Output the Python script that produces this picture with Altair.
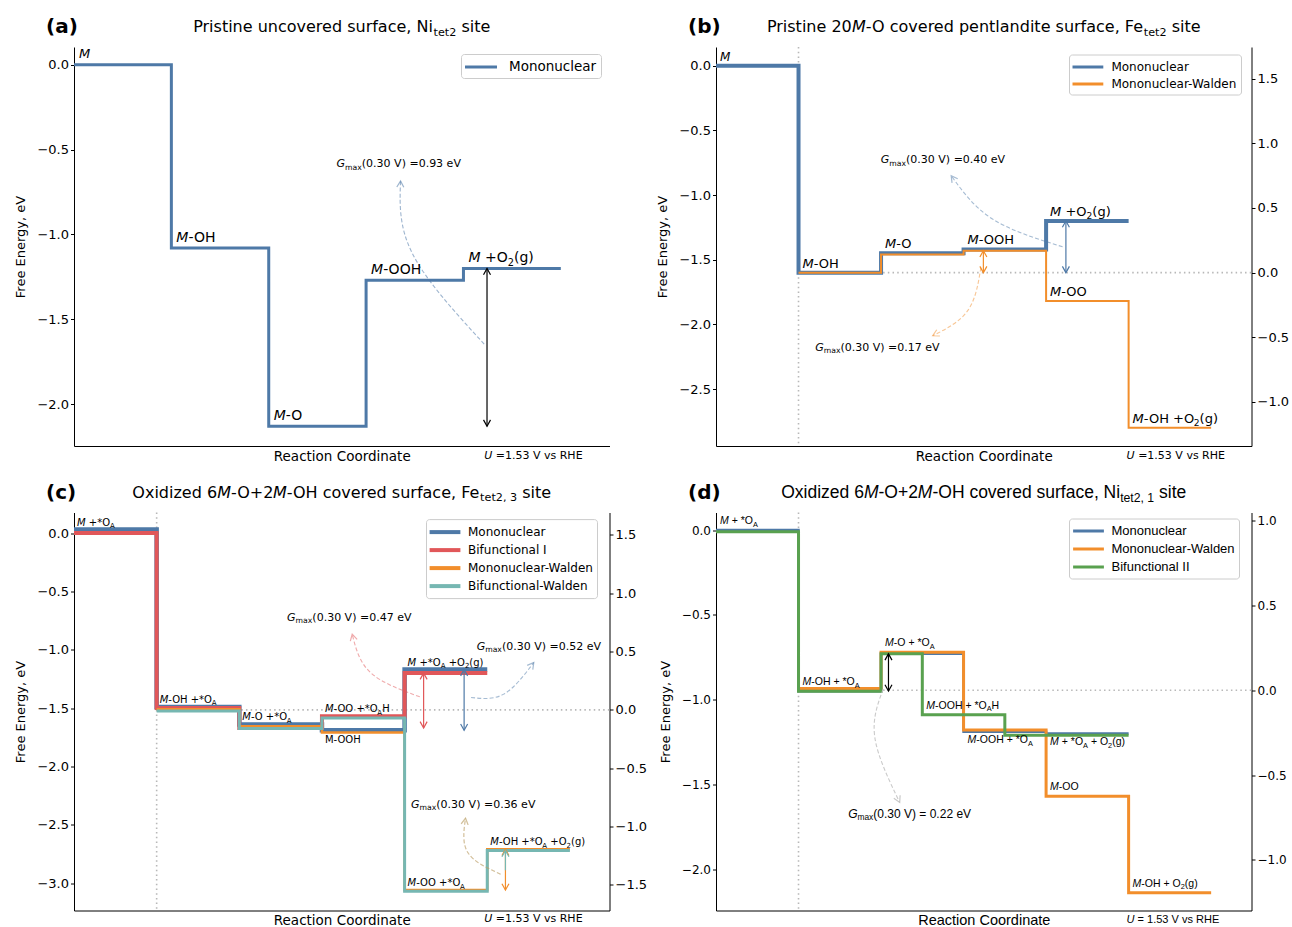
import math
import altair as alt
import pandas as pd

BLUE, ORANGE, RED, TEAL, GREEN = "#4E79A7", "#F28E2B", "#E15759", "#76B7B2", "#59A14F"
DOT = "#b8b8b8"
DV, LS = "DejaVu Sans", "Liberation Sans"

# ------------------------------------------------------------------ data
# (a) Pristine uncovered surface
A_MONO_STEPS = [0, 1, 2, 3, 4, 5]
A_MONO = [0.00, -1.08, -2.13, -1.27, -1.20]
A_STATES = ["$M$", "$M$-OH", "$M$-O", "$M$-OOH", "$M$ +O_2(g)"]
A_GMAX = ["$G$_{max}(0.30 V) =0.93 eV"]

# (b) Pristine 20M-O covered pentlandite surface
B_MONO_STEPS = [0, 1, 2, 3, 4, 5]
B_MONO = [0.00, -1.60, -1.45, -1.42, -1.20]
B_WALD_STEPS = [1, 2, 3, 4, 5, 6]
B_WALD = [-1.60, -1.46, -1.43, -1.82, -2.80]
B_MONO_STATES = ["$M$", "$M$-OH", "$M$-O", "$M$-OOH", "$M$ +O_2(g)"]
B_WALD_STATES = ["$M$-OO", "$M$-OH +O_2(g)"]
B_GMAX = ["$G$_{max}(0.30 V) =0.40 eV", "$G$_{max}(0.30 V) =0.17 eV"]

# (c) Oxidized surface, Fe site
C_MONO_STEPS = [0, 1, 2, 3, 4, 5]
C_MONO = [0.03, -1.49, -1.64, -1.69, -1.17]
C_BIF1_STEPS = [0, 1, 2, 3, 4, 5]
C_BIF1 = [0.00, -1.50, -1.67, -1.57, -1.20]
C_MWALD_STEPS = [1, 2, 3, 4, 5, 6]
C_MWALD = [-1.51, -1.655, -1.71, -3.06, -2.71]
C_BWALD_STEPS = [1, 2, 3, 4, 5, 6]
C_BWALD = [-1.525, -1.675, -1.585, -3.07, -2.72]
C_STATES = ["$M$ +*O_A", "$M$-OH +*O_A", "$M$-O +*O_A", "$M$-OO +*O_AH", "M-OOH",
            "$M$ +*O_A +O_2(g)", "$M$-OO +*O_A", "$M$-OH +*O_A +O_2(g)"]
C_GMAX = ["$G$_{max}(0.30 V) =0.47 eV", "$G$_{max}(0.30 V) =0.52 eV", "$G$_{max}(0.30 V) =0.36 eV"]

# (d) Oxidized surface, Ni site
D_MONO_STEPS = [0, 1, 2, 3, 4, 5]
D_MONO = [0.00, -0.95, -0.73, -1.19, -1.20]
D_MWALD_STEPS = [1, 2, 3, 4, 5, 6]
D_MWALD = [-0.935, -0.72, -1.18, -1.57, -2.14]
D_BIF2_STEPS = [0, 1, 2, 2.5, 3.5, 5]
D_BIF2 = [-0.01, -0.95, -0.73, -1.09, -1.21]
D_STATES = ["$M$ + *O_A", "$M$-OH + *O_A", "$M$-O + *O_A", "$M$-OOH + *O_AH", "$M$-OOH + *O_A",
            "$M$ + *O_A + O_2(g)", "$M$-OO", "$M$-OH + O_2(g)"]
D_GMAX = ["$G$_{max}(0.30 V) = 0.22 eV"]

# ------------------------------------------------------------------ text helpers
_DV = {" ": .318, "(": .390, ")": .390, "*": .500, "+": .838, ",": .318, "-": .361, ".": .318, "=": .838,
       "A": .684, "E": .632, "F": .575, "G": .775, "H": .752, "M": .863, "N": .748, "O": .787, "P": .603,
       "R": .695, "U": .732, "V": .684, "W": .989,
       "a": .613, "b": .635, "c": .550, "d": .635, "e": .615, "f": .352, "g": .635, "h": .634, "i": .278,
       "k": .579, "l": .278, "m": .974, "n": .634, "o": .612, "p": .635, "r": .411, "s": .521, "t": .392,
       "u": .634, "v": .592, "x": .592, "y": .592, "z": .525}
_DVB = {"(": .457, ")": .457, "a": .675, "b": .716, "c": .593, "d": .716}
_LS = {" ": .278, "(": .333, ")": .333, "*": .389, "+": .584, ",": .278, "-": .333, ".": .278, "=": .584,
       "A": .667, "E": .667, "F": .611, "G": .778, "H": .722, "M": .833, "N": .722, "O": .778, "P": .667,
       "R": .722, "U": .722, "V": .667, "W": .944,
       "a": .556, "b": .556, "c": .5, "d": .556, "e": .556, "f": .278, "g": .556, "h": .556, "i": .222,
       "k": .5, "l": .222, "m": .833, "n": .556, "o": .556, "p": .556, "r": .333, "s": .5, "t": .278,
       "u": .556, "v": .5, "x": .5, "y": .5, "z": .5}
_LSB = {"(": .333, ")": .333, "d": .611}
for _d in "0123456789":
    _DV[_d] = .636
    _LS[_d] = .556
TABLES = {DV: (_DV, _DVB), LS: (_LS, _LSB)}


def text_width(s, font, size, bold=False):
    reg, bld = TABLES[font]
    return sum((bld.get(c, reg.get(c, .6) * 1.08) if bold else reg.get(c, .6)) for c in s) * size


def parse(markup):
    segs, cur, italic, i = [], "", False, 0
    while i < len(markup):
        ch = markup[i]
        if ch == "$":
            if cur:
                segs.append((cur, "i" if italic else "n"))
                cur = ""
            italic = not italic
            i += 1
        elif ch == "_":
            if cur:
                segs.append((cur, "i" if italic else "n"))
                cur = ""
            if markup[i + 1] == "{":
                j = markup.index("}", i)
                segs.append((markup[i + 2:j], "s"))
                i = j + 1
            else:
                segs.append((markup[i + 1], "s"))
                i += 2
        else:
            cur += ch
            i += 1
    if cur:
        segs.append((cur, "i" if italic else "n"))
    return segs


def emit(rows, markup, x, y, size, font, kx, ky, align="left", bold=False):
    pieces = []
    for t, st in parse(markup):
        s = size * 0.7 if st == "s" else size
        pieces.append((t, st, s, text_width(t, font, s, bold)))
    total = sum(p[3] for p in pieces)
    cur = x - (total / 2.0) / kx if align == "center" else x
    for t, st, s, w in pieces:
        body = t.lstrip(" ")
        lead = text_width(t[: len(t) - len(body)], font, s, bold)
        body = body.rstrip(" ")
        if body:
            yy = y - (0.24 * size) / ky if st == "s" else y
            style = "b" if bold else ("i" if st == "i" else "n")
            rows.append({"x": cur + lead / kx, "y": yy, "t": body, "s": s, "st": style, "f": font})
        cur += w / kx


def step_rows(name, xs, levels):
    rows, o = [], 0
    for i, lev in enumerate(levels):
        rows.append({"x": xs[i], "y": lev, "series": name, "o": o})
        rows.append({"x": xs[i + 1], "y": lev, "series": name, "o": o + 1})
        o += 2
    return rows


CHEV = "M-1,1.8L0,0L1,1.8"
VIEW = alt.ViewBackground(stroke="transparent", strokeWidth=0, strokeOpacity=0)


def build(cfg):
    W, H = cfg["W"], cfg["H"]
    (x0, x1), (y0, y1) = cfg["xdom"], cfg["ydom"]
    kx, ky = W / (x1 - x0), H / (y1 - y0)
    font = cfg["font"]

    xsc = alt.Scale(domain=[x0, x1], nice=False, zero=False)
    ysc = alt.Scale(domain=[y0, y1], nice=False, zero=False)
    xaxis = alt.Axis(title="Reaction Coordinate", labels=False, ticks=False, grid=False,
                     domainColor="black", domainWidth=1, titleFont=cfg["xt_font"],
                     titleFontSize=cfg["xt_fs"], titleFontWeight="normal", titleColor="black",
                     titlePadding=3)
    yaxis = alt.Axis(title="Free Energy, eV", values=cfg["yticks"], format=".1f", grid=False,
                     domainColor="black", domainWidth=1, tickColor="black", tickWidth=1, tickSize=3.5,
                     labelColor="black", labelFont=DV, labelFontSize=cfg["tick_fs"], labelPadding=2,
                     titleFont=DV, titleFontSize=13, titleFontWeight="normal", titleColor="black",
                     titlePadding=9)

    def X():
        return alt.X("x:Q", scale=xsc, axis=xaxis)

    def Y():
        return alt.Y("y:Q", scale=ysc, axis=yaxis)

    names = [s[0] for s in cfg["series"]]
    lg = cfg["legend"]
    leg = alt.Legend(title=None, orient="none", legendX=lg["x"], legendY=lg["y"],
                     symbolType="M-2.2,0H2.2", symbolSize=lg["symsize"], symbolOffset=lg["symoff"],
                     symbolStrokeWidth=lg["sw"],
                     labelOffset=lg["laboff"], labelFont=lg["font"], labelFontSize=lg["fs"],
                     labelColor="black", fillColor="white", strokeColor="#cccccc", padding=lg["pad"],
                     cornerRadius=3, rowPadding=lg["rowpad"], labelLimit=300)
    color_enc = alt.Color("series:N", scale=alt.Scale(domain=names, range=[s[3] for s in cfg["series"]]),
                          legend=leg)

    layers = []
    vx = cfg["vline"] if cfg["vline"] is not None else x0
    vdf = pd.DataFrame([{"x": vx, "y": y1, "y2": y0}])
    vis = cfg["vline"] is not None
    layers.append(alt.Chart(vdf).mark_rule(color=DOT, strokeDash=[1.5, 3.2], strokeWidth=1.6,
                                           opacity=1 if vis else 0, strokeOpacity=1 if vis else 0)
                  .encode(x=X(), y=Y(), y2="y2:Q"))

    series_map = {}
    for name, xs, lev, col, w in cfg["series"]:
        series_map[name] = (xs, lev)
        df = pd.DataFrame(step_rows(name, xs, lev))
        layers.append(alt.Chart(df).mark_line(strokeJoin="miter", strokeWidth=w)
                      .encode(x=X(), y=Y(), order=alt.Order("o:Q"), color=color_enc))

    # dashed curved arrows + arrowheads
    crow, hrow, arow = [], [], []
    for cid, (pts, col, op) in enumerate(cfg["curves"]):
        for k, (px_, py_) in enumerate(pts):
            crow.append({"x": px_, "y": py_, "o": k, "id": cid, "c": col, "op": op})
        P = [(p[0] * kx, -p[1] * ky) for p in pts]
        tx = (P[2][0] - P[1][0]) + 0.25 * (P[0][0] - 2 * P[1][0] + P[2][0])
        ty = (P[2][1] - P[1][1]) + 0.25 * (P[0][1] - 2 * P[1][1] + P[2][1])
        ang = math.degrees(math.atan2(tx, -ty)) % 360
        hrow.append({"x": pts[2][0], "y": pts[2][1], "a": ang, "c": col, "op": op})
    for ax, yt, yb, col, heads in cfg["arrows"]:
        arow.append({"x": ax, "y": yt, "y2": yb, "c": col})
        if heads in ("both", "top"):
            hrow.append({"x": ax, "y": yt, "a": 0, "c": col, "op": 1.0})
        if heads in ("both", "bottom"):
            hrow.append({"x": ax, "y": yb, "a": 180, "c": col, "op": 1.0})
    if crow:
        layers.append(alt.Chart(pd.DataFrame(crow)).mark_line(interpolate="natural", strokeDash=[4, 2.2],
                                                               strokeWidth=1.1)
                      .encode(x=X(), y=Y(), order=alt.Order("o:Q"), detail="id:N",
                              stroke=alt.Stroke("c:N", scale=None), opacity=alt.Opacity("op:Q", scale=None)))
    if arow:
        layers.append(alt.Chart(pd.DataFrame(arow)).mark_rule(strokeWidth=1.2)
                      .encode(x=X(), y=Y(), y2="y2:Q", stroke=alt.Stroke("c:N", scale=None)))
    if hrow:
        layers.append(alt.Chart(pd.DataFrame(hrow)).mark_point(shape=CHEV, filled=False, size=49,
                                                               strokeWidth=1.2)
                      .encode(x=X(), y=Y(), angle=alt.Angle("a:Q", scale=None),
                              stroke=alt.Stroke("c:N", scale=None), opacity=alt.Opacity("op:Q", scale=None)))

    # texts
    rows = []
    for lab in cfg["labels"]:
        markup, sname, idx, pos = lab[:4]
        size = lab[4] if len(lab) > 4 else cfg["lab_fs"]
        xs, lev = series_map[sname]
        lx = xs[idx] + cfg["lab_dx"] / kx
        if pos == "a":
            ly = lev[idx] + (lab[5] if len(lab) > 5 else cfg["lab_above"]) / ky
        else:
            ly = lev[idx] - cfg["lab_below"] / ky
        emit(rows, markup, lx, ly, size, font, kx, ky)
    for g, gx, gy in cfg["gmax"]:
        emit(rows, g, gx, gy, cfg["gmax_fs"], font, kx, ky, align="center")
    emit(rows, cfg["title"], (x0 + x1) / 2, y1 + 15 / ky, cfg["title_fs"], cfg["title_font"], kx, ky,
         align="center")
    emit(rows, cfg["tag"], x0 - 28 / kx, y1 + 14 / ky, 20, DV, kx, ky, bold=True)
    emit(rows, cfg["utext"], x0 + cfg["ux"] / kx, y0 - cfg["u_dy"] / ky, cfg["u_fs"], font, kx, ky)
    tdf = pd.DataFrame(rows)
    for (f, st), sub in tdf.groupby(["f", "st"]):
        layers.append(alt.Chart(sub).mark_text(align="left", baseline="alphabetic", font=f,
                                               fontStyle="italic" if st == "i" else "normal",
                                               fontWeight="bold" if st == "b" else "normal", color="black")
                      .encode(x=X(), y=Y(), text="t:N", size=alt.Size("s:Q", scale=None, legend=None)))

    main = alt.layer(*layers)
    if cfg["right"] is not None:
        off, rticks = cfg["right"]
        raxis = alt.Axis(orient="right", title=None, values=rticks, format=".1f", grid=False,
                         domainColor="black", domainWidth=1, tickColor="black", tickWidth=1, tickSize=3.5,
                         labelColor="black", labelFont=DV, labelFontSize=cfg["tick_fs"], labelPadding=2)
        rdf = pd.DataFrame([{"x": cfg["vline"], "x2": x1, "yr": 0.0}])
        right = (alt.Chart(rdf).mark_rule(color=DOT, strokeDash=[1.5, 3.2], strokeWidth=1.6)
                 .encode(x=X(), x2="x2:Q",
                         y=alt.Y("yr:Q", scale=alt.Scale(domain=[y0 + off, y1 + off], nice=False, zero=False),
                                 axis=raxis)))
    else:
        # panel (a): same two-scale structure, but with no visible right axis or reference line
        rdf = pd.DataFrame([{"x": x0, "x2": x1, "yr": 0.0}])
        right = (alt.Chart(rdf).mark_rule(strokeOpacity=0, opacity=0)
                 .encode(x=X(), x2="x2:Q",
                         y=alt.Y("yr:Q", scale=alt.Scale(domain=[y0, y1], nice=False, zero=False),
                                 axis=None)))
    chart = alt.layer(right, main).resolve_scale(y="independent")
    return chart.properties(width=W, height=H, view=VIEW)


cfgA = dict(
    W=535.5, H=399, xdom=(0, 5.5), ydom=(-2.2467, 0.105), yticks=[0, -0.5, -1.0, -1.5, -2.0],
    right=None, vline=None, font=DV, tick_fs=13, xt_font=DV, xt_fs=13.5,
    series=[("Mononuclear", A_MONO_STEPS, A_MONO, BLUE, 3)],
    labels=[(A_STATES[0], "Mononuclear", 0, "a", 13, 7)] +
           [(A_STATES[i], "Mononuclear", i, "a") for i in range(1, 5)],
    lab_fs=14, lab_dx=5, lab_above=6, lab_below=12,
    gmax=[(A_GMAX[0], 3.335, -0.605)], gmax_fs=11,
    arrows=[(4.242, -1.20, -2.13, "black", "both")],
    curves=[([(4.213, -1.646), (3.479, -1.116), (3.354, -0.684)], BLUE, 0.55)],
    title="Pristine uncovered surface, Ni_{tet2} site", title_fs=16, title_font=DV, tag="(a)",
    utext="$U$ =1.53 V vs RHE", ux=410.2, u_dy=13, u_fs=11,
    legend=dict(x=387, y=7, fs=13.5, font=DV, symsize=211, symoff=7, laboff=19, rowpad=2, pad=4, sw=3),
)

cfgB = dict(
    W=535.5, H=399, xdom=(0, 6.489), ydom=(-2.9405, 0.145), yticks=[0, -0.5, -1.0, -1.5, -2.0, -2.5],
    right=(1.60, [-1.0, -0.5, 0.0, 0.5, 1.0, 1.5]), vline=1, font=DV, tick_fs=13, xt_font=DV, xt_fs=13.5,
    series=[("Mononuclear", B_MONO_STEPS, B_MONO, BLUE, 4),
            ("Mononuclear-Walden", B_WALD_STEPS, B_WALD, ORANGE, 2)],
    labels=[(B_MONO_STATES[0], "Mononuclear", 0, "a", 12)] +
           [(B_MONO_STATES[i], "Mononuclear", i, "a") for i in range(1, 5)] +
           [(B_WALD_STATES[0], "Mononuclear-Walden", 3, "a"),
            (B_WALD_STATES[1], "Mononuclear-Walden", 4, "a")],
    lab_fs=13, lab_dx=4, lab_above=5, lab_below=12,
    gmax=[(B_GMAX[0], 2.75, -0.755), (B_GMAX[1], 1.956, -2.204)], gmax_fs=11,
    arrows=[(4.24, -1.20, -1.60, BLUE, "both"), (3.24, -1.43, -1.60, ORANGE, "both")],
    curves=[([(4.20, -1.40), (3.35, -1.185), (2.85, -0.85)], BLUE, 0.5),
            ([(3.21, -1.56), (3.05, -1.894), (2.626, -2.088)], ORANGE, 0.5)],
    title="Pristine 20$M$-O covered pentlandite surface, Fe_{tet2} site", title_fs=16, title_font=DV,
    tag="(b)", utext="$U$ =1.53 V vs RHE", ux=410.6, u_dy=13, u_fs=11,
    legend=dict(x=353, y=7.5, fs=12, font=DV, symsize=196, symoff=6.4, laboff=15, rowpad=2, pad=4, sw=3),
)

cfgC = dict(
    W=535.5, H=398, xdom=(0, 6.479), ydom=(-3.2347, 0.1766),
    yticks=[0, -0.5, -1.0, -1.5, -2.0, -2.5, -3.0],
    right=(1.515, [-1.5, -1.0, -0.5, 0.0, 0.5, 1.0, 1.5]), vline=1, font=DV, tick_fs=13, xt_font=DV,
    xt_fs=13.5,
    series=[("Mononuclear", C_MONO_STEPS, C_MONO, BLUE, 4.5),
            ("Bifunctional I", C_BIF1_STEPS, C_BIF1, RED, 4),
            ("Mononuclear-Walden", C_MWALD_STEPS, C_MWALD, ORANGE, 2.5),
            ("Bifunctional-Walden", C_BWALD_STEPS, C_BWALD, TEAL, 3)],
    labels=[(C_STATES[0], "Mononuclear", 0, "a"), (C_STATES[1], "Mononuclear", 1, "a"),
            (C_STATES[2], "Mononuclear", 2, "a"), (C_STATES[3], "Bifunctional I", 3, "a"),
            (C_STATES[4], "Mononuclear-Walden", 2, "b"), (C_STATES[5], "Mononuclear", 4, "a"),
            (C_STATES[6], "Mononuclear-Walden", 3, "a"), (C_STATES[7], "Mononuclear-Walden", 4, "a")],
    lab_fs=10, lab_dx=3, lab_above=4, lab_below=10.5,
    gmax=[(C_GMAX[0], 3.33, -0.752), (C_GMAX[1], 5.624, -1.0), (C_GMAX[2], 4.83, -2.352)], gmax_fs=11,
    arrows=[(4.23, -1.20, -1.67, RED, "both"), (4.72, -1.17, -1.69, BLUE, "both"),
            (5.22, -2.71, -3.06, ORANGE, "both"), (5.22, -2.72, -2.89, TEAL, "top")],
    curves=[([(4.184, -1.403), (3.587, -1.195), (3.366, -0.866)], RED, 0.5),
            ([(4.804, -1.409), (5.2, -1.38), (5.563, -1.109)], BLUE, 0.5),
            ([(5.161, -2.923), (4.765, -2.738), (4.737, -2.443)], ORANGE, 0.5),
            ([(5.161, -2.923), (4.765, -2.738), (4.737, -2.443)], TEAL, 0.3)],
    title="Oxidized 6$M$-O+2$M$-OH covered surface, Fe_{tet2, 3} site", title_fs=16, title_font=DV,
    tag="(c)", utext="$U$ =1.53 V vs RHE", ux=410.2, u_dy=11, u_fs=11,
    legend=dict(x=352, y=6.6, fs=12, font=DV, symsize=196, symoff=6, laboff=14, rowpad=1, pad=4, sw=4),
)

cfgD = dict(
    W=535.5, H=398, xdom=(0, 6.489), ydom=(-2.2442, 0.1038), yticks=[0, -0.5, -1.0, -1.5, -2.0],
    right=(0.945, [-1.0, -0.5, 0.0, 0.5, 1.0]), vline=1, font=LS, tick_fs=12, xt_font=LS, xt_fs=14.5,
    series=[("Mononuclear", D_MONO_STEPS, D_MONO, BLUE, 2.5),
            ("Mononuclear-Walden", D_MWALD_STEPS, D_MWALD, ORANGE, 3),
            ("Bifunctional II", D_BIF2_STEPS, D_BIF2, GREEN, 3)],
    labels=[(D_STATES[0], "Mononuclear", 0, "a"), (D_STATES[1], "Mononuclear", 1, "a"),
            (D_STATES[2], "Mononuclear-Walden", 1, "a"), (D_STATES[3], "Bifunctional II", 3, "a"),
            (D_STATES[4], "Mononuclear", 3, "b"), (D_STATES[5], "Mononuclear", 4, "b"),
            (D_STATES[6], "Mononuclear-Walden", 3, "a"), (D_STATES[7], "Mononuclear-Walden", 4, "a")],
    lab_fs=10.5, lab_dx=4, lab_above=6, lab_below=11.5,
    gmax=[(D_GMAX[0], 2.346, -1.696)], gmax_fs=12,
    arrows=[(2.09, -0.73, -0.95, "black", "both")],
    curves=[([(2.026, -0.938), (1.925, -1.224), (2.226, -1.607)], "#c4c4c4", 0.9)],
    title="Oxidized 6$M$-O+2$M$-OH covered surface, Ni_{tet2, 1} site", title_fs=17.5, title_font=LS,
    tag="(d)", utext="$U$ = 1.53 V vs RHE", ux=410.6, u_dy=12, u_fs=11,
    legend=dict(x=353, y=6, fs=13, font=LS, symsize=196, symoff=7, laboff=14.5, rowpad=2, pad=4, sw=3),
)

panels = [build(c) for c in (cfgA, cfgB, cfgC, cfgD)]

chart = (
    alt.concat(*panels, columns=2, spacing={"row": 66.5, "column": 106}, bounds="flush")
    .resolve_scale(color="independent")
    .properties(padding={"left": 14, "top": 17, "right": 0, "bottom": 0})
    .configure_view(stroke="transparent", strokeWidth=0, strokeOpacity=0)
    .configure(font=DV)
)

chart.save("out.html", embed_options={"renderer": "svg", "actions": False})
